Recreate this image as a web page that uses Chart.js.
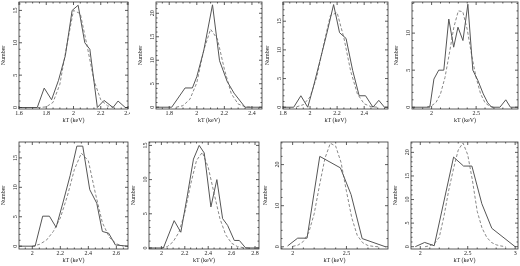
<!DOCTYPE html>
<html><head><meta charset="utf-8">
<script src="https://cdn.jsdelivr.net/npm/chart.js@4"></script>
<style>
html,body{margin:0;padding:0;background:#fff;}
body{width:520px;height:266px;overflow:hidden;position:relative;}
.p{position:absolute;}
</style></head><body>
<script>
// ---------- data: solid histogram (kT, counts) and dashed model (kT, counts) ----------
const p1_kT  = [1.6, 1.734, 1.785, 1.839, 1.89, 1.94, 1.99, 2.034, 2.083, 2.12, 2.175, 2.224, 2.29, 2.327, 2.38, 2.4];
const p1_n   = [0, 0, 3, 1.2, 4.2, 8, 15, 15.8, 10, 9, 0, 1.1, 0, 1, 0, 0];
const p1_mKT = [1.70, 1.75, 1.80, 1.85, 1.90, 1.95, 2.00, 2.05, 2.10, 2.15, 2.20, 2.25, 2.30];
const p1_mN  = [0, 0, 0.1, 0.8, 3.6, 9.5, 15.0, 14.5, 9.5, 4.2, 1.2, 0.25, 0];

const p2_kT  = [1.704, 1.818, 1.915, 1.968, 2.0, 2.05, 2.114, 2.165, 2.22, 2.27, 2.35, 2.473];
const p2_n   = [0, 0, 4.1, 4.1, 6.5, 12, 21.8, 9.9, 5.5, 3, 0, 0];
const p2_mKT = [1.85, 1.90, 1.95, 2.00, 2.05, 2.10, 2.15, 2.20, 2.25, 2.30, 2.35, 2.40];
const p2_mN  = [0, 0.33, 1.7, 5.2, 12.1, 16.6, 14.5, 8.1, 2.9, 0.68, 0.1, 0];

const p3_kT  = [1.8, 1.879, 1.932, 1.983, 2.024, 2.072, 2.12, 2.174, 2.218, 2.266, 2.315, 2.363, 2.41, 2.465, 2.508, 2.55, 2.576];
const p3_n   = [0, 0, 2, 0, 3.5, 8, 12.5, 17.9, 13, 12, 6.4, 2, 2, 0, 1.2, 0, 0];
const p3_mKT = [1.90, 1.95, 2.00, 2.05, 2.10, 2.15, 2.20, 2.25, 2.30, 2.35, 2.40, 2.45, 2.50];
const p3_mN  = [0.07, 0.44, 1.8, 5.3, 10.9, 16.0, 16.5, 12.1, 6.3, 2.3, 0.6, 0.1, 0];

const p4_kT  = [1.78, 1.98, 2.026, 2.08, 2.137, 2.193, 2.248, 2.296, 2.352, 2.407, 2.463, 2.52, 2.58, 2.63, 2.674, 2.767, 2.833, 2.885, 2.97];
const p4_n   = [0, 0, 3.8, 5, 5, 11.9, 8.1, 10.8, 9, 13.9, 5, 3.6, 1.8, 0.6, 0, 0, 1, 0, 0];
const p4_mKT = [1.95, 2.00, 2.05, 2.10, 2.15, 2.20, 2.25, 2.30, 2.35, 2.40, 2.45, 2.50, 2.55, 2.60, 2.65, 2.70];
const p4_mN  = [0.05, 0.2, 0.65, 1.8, 4.0, 7.3, 10.8, 13.0, 12.9, 10.5, 7.0, 4.0, 1.8, 0.6, 0.15, 0];

const p5_kT  = [1.905, 2.02, 2.074, 2.122, 2.17, 2.22, 2.27, 2.318, 2.36, 2.41, 2.46, 2.5, 2.545, 2.593, 2.683];
const p5_n   = [0, 0, 5.1, 5.1, 3.2, 7.5, 12, 17, 17, 9.6, 7.3, 2.5, 2.2, 0.2, 0];
const p5_mKT = [2.00, 2.05, 2.10, 2.15, 2.20, 2.25, 2.30, 2.35, 2.40, 2.45, 2.50, 2.55, 2.60, 2.65];
const p5_mN  = [0, 0.3, 1.0, 2.5, 4.8, 8.5, 13.0, 15.8, 14.5, 9.0, 4.0, 1.5, 0.4, 0];

const p6_kT  = [1.894, 2.017, 2.109, 2.166, 2.22, 2.274, 2.323, 2.366, 2.423, 2.474, 2.523, 2.566, 2.623, 2.666, 2.72, 2.834];
const p6_n   = [0, 0, 4, 2.3, 7.5, 13, 15, 13.9, 6, 10, 4.3, 3.3, 1.1, 1.1, 0, 0];
const p6_mKT = [2.00, 2.05, 2.10, 2.15, 2.20, 2.25, 2.30, 2.35, 2.40, 2.45, 2.50, 2.55, 2.60, 2.65, 2.70, 2.75];
const p6_mN  = [0, 0.2, 0.9, 2.3, 5.2, 9.3, 12.8, 14.0, 11.8, 8.0, 4.3, 1.9, 0.7, 0.2, 0.05, 0];

const p7_kT  = [1.953, 2.047, 2.134, 2.252, 2.444, 2.543, 2.646, 2.863];
const p7_n   = [0.2, 2.1, 2.1, 22, 19.2, 12.7, 2, 0];
const p7_mKT = [2.00, 2.05, 2.10, 2.15, 2.20, 2.25, 2.30, 2.35, 2.40, 2.45, 2.50, 2.55, 2.60, 2.65, 2.70, 2.75, 2.80];
const p7_mN  = [0.1, 0.4, 1.3, 3.5, 8.0, 15.0, 21.5, 25.2, 24.5, 20.5, 13.5, 7.0, 2.8, 1.0, 0.3, 0.1, 0];

const p8_kT  = [1.947, 2.046, 2.147, 2.351, 2.456, 2.544, 2.649, 2.754, 3.0];
const p8_n   = [0, 0.9, 0.2, 19, 17.1, 17.1, 9.1, 3.9, 0];
const p8_mKT = [2.05, 2.10, 2.15, 2.20, 2.25, 2.30, 2.35, 2.40, 2.45, 2.50, 2.55, 2.60, 2.65, 2.70, 2.75, 2.80, 2.85, 2.90];
const p8_mN  = [0, 0.2, 0.7, 2.0, 6.5, 12.0, 16.5, 20.5, 22.0, 19.5, 14.0, 7.5, 4.0, 2.0, 0.9, 0.4, 0.15, 0];

// ---------- tick labels ----------
const p1_xTicks = [1.6, 1.8, 2, 2.2, 2.4];   const p1_yTicks = [0, 5, 10, 15];
const p2_xTicks = [1.8, 2, 2.2, 2.4];        const p2_yTicks = [0, 5, 10, 15, 20];
const p3_xTicks = [1.8, 2, 2.2, 2.4];        const p3_yTicks = [0, 5, 10, 15];
const p4_xTicks = [2, 2.5];                  const p4_yTicks = [0, 5, 10];
const p5_xTicks = [2, 2.2, 2.4, 2.6];        const p5_yTicks = [0, 5, 10, 15];
const p6_xTicks = [2, 2.2, 2.4, 2.6, 2.8];   const p6_yTicks = [0, 5, 10, 15];
const p7_xTicks = [2, 2.5];                  const p7_yTicks = [0, 10, 20];
const p8_xTicks = [2, 2.5, 3];               const p8_yTicks = [0, 5, 10, 15, 20];

const xTitle = 'kT (keV)';
const yTitle = 'Number';

// ---------- layout (plot-box pixels) ----------
const panels = [
  {kT:p1_kT,n:p1_n,mKT:p1_mKT,mN:p1_mN,xt:p1_xTicks,yt:p1_yTicks,box:[19,1.5,128,108.5],xr:[1.6,2.4],yr:[-0.23,16.3],xm:0.05,ym:1},
  {kT:p2_kT,n:p2_n,mKT:p2_mKT,mN:p2_mN,xt:p2_xTicks,yt:p2_yTicks,box:[156,1.5,261.5,108.5],xr:[1.704,2.473],yr:[-0.38,22.4],xm:0.05,ym:1},
  {kT:p3_kT,n:p3_n,mKT:p3_mKT,mN:p3_mN,xt:p3_xTicks,yt:p3_yTicks,box:[283,1.5,388,108.5],xr:[1.8,2.576],yr:[-0.31,18.35],xm:0.05,ym:1},
  {kT:p4_kT,n:p4_n,mKT:p4_mKT,mN:p4_mN,xt:p4_xTicks,yt:p4_yTicks,box:[412,1.5,518,108.5],xr:[1.78,2.97],yr:[-0.24,14.2],xm:0.1,ym:1},
  {kT:p5_kT,n:p5_n,mKT:p5_mKT,mN:p5_mN,xt:p5_xTicks,yt:p5_yTicks,box:[19,142,127.5,248.5],xr:[1.905,2.683],yr:[-0.48,17.7],xm:0.05,ym:1},
  {kT:p6_kT,n:p6_n,mKT:p6_mKT,mN:p6_mN,xt:p6_xTicks,yt:p6_yTicks,box:[148.5,142,258,248.5],xr:[1.894,2.834],yr:[-0.15,15.5],xm:0.05,ym:1},
  {kT:p7_kT,n:p7_n,mKT:p7_mKT,mN:p7_mN,xt:p7_xTicks,yt:p7_yTicks,box:[281,142,387.5,248.5],xr:[1.892,2.886],yr:[-0.54,25.5],xm:0.1,ym:2},
  {kT:p8_kT,n:p8_n,mKT:p8_mKT,mN:p8_mN,xt:p8_xTicks,yt:p8_yTicks,box:[411,142,518,248.5],xr:[1.902,3.03],yr:[-0.49,22.2],xm:0.1,ym:1}
];

const YW = 19, XH = 15, PT = 2, PR = 2;
const FONT = {family:'"Liberation Serif", "DejaVu Serif", serif', size:6};
const TXT = '#222';

const frame = {
  id:'frame',
  afterDatasetsDraw(chart, args, o) {
    const {ctx, chartArea:a, scales:{x, y}} = chart;
    ctx.save();
    ctx.strokeStyle = '#333'; ctx.lineWidth = 0.8;
    ctx.strokeRect(a.left, a.top, a.right - a.left, a.bottom - a.top);
    ctx.beginPath();
    const tx = (v, len) => { const p = x.getPixelForValue(v); ctx.moveTo(p, a.bottom); ctx.lineTo(p, a.bottom - len); ctx.moveTo(p, a.top); ctx.lineTo(p, a.top + len); };
    const ty = (v, len) => { const p = y.getPixelForValue(v); ctx.moveTo(a.left, p); ctx.lineTo(a.left + len, p); ctx.moveTo(a.right, p); ctx.lineTo(a.right - len, p); };
    const isMajor = (v, arr) => arr.some(t => Math.abs(t - v) < 1e-6);
    for (let k = Math.ceil(x.min / o.xm - 1e-6); k * o.xm <= x.max + 1e-9; k++) {
      const v = +(k * o.xm).toFixed(4); tx(v, isMajor(v, o.xt) ? 3 : 1.5);
    }
    for (let k = Math.ceil(y.min / o.ym - 1e-6); k * o.ym <= y.max + 1e-9; k++) {
      const v = k * o.ym; ty(v, isMajor(v, o.yt) ? 3 : 1.5);
    }
    ctx.stroke();
    ctx.restore();
  }
};

panels.forEach((p) => {
  const [L, T, R, B] = p.box;
  const w = Math.round(R - L + YW + PR), h = Math.round(B - T + PT + XH);
  const div = document.createElement('div');
  div.className = 'p';
  div.style.left = (L - YW) + 'px'; div.style.top = (T - PT) + 'px';
  div.style.width = w + 'px'; div.style.height = h + 'px';
  const cv = document.createElement('canvas');
  cv.width = w; cv.height = h; cv.style.width = w + 'px'; cv.style.height = h + 'px';
  div.appendChild(cv); document.body.appendChild(div);

  new Chart(cv, {
    type: 'line',
    data: {
      datasets: [
        {data: p.kT.map((v, i) => ({x: v, y: p.n[i]})), borderColor:'#555', borderWidth:1, pointRadius:0, tension:0},
        {data: p.mKT.map((v, i) => ({x: v, y: p.mN[i]})), borderColor:'#888', borderWidth:1, borderDash:[3,2], pointRadius:0, tension:0}
      ]
    },
    options: {
      responsive:false, animation:false, devicePixelRatio:1,
      layout:{padding:{top:PT, right:PR, left:0, bottom:0}},
      plugins:{legend:{display:false}, tooltip:{enabled:false}, frame:{xm:p.xm, ym:p.ym, xt:p.xt, yt:p.yt}},
      scales:{
        x:{type:'linear', min:p.xr[0], max:p.xr[1],
           grid:{display:false, drawTicks:false, tickLength:0}, border:{display:false},
           afterBuildTicks: s => { s.ticks = p.xt.map(v => ({value:v})); },
           afterFit: s => { s.height = XH; s.paddingLeft = 0; s.paddingRight = 0; },
           ticks:{font:FONT, color:TXT, padding:1, autoSkip:false, maxRotation:0, minRotation:0, callback: v => String(v)},
           title:{display:true, text:xTitle, font:FONT, color:TXT, padding:0}},
        y:{type:'linear', min:p.yr[0], max:p.yr[1],
           grid:{display:false, drawTicks:false, tickLength:0}, border:{display:false},
           afterBuildTicks: s => { s.ticks = p.yt.map(v => ({value:v})); },
           afterFit: s => { s.width = YW; s.paddingTop = 0; s.paddingBottom = 0; },
           ticks:{font:FONT, color:TXT, padding:1, autoSkip:false, minRotation:90, maxRotation:90, crossAlign:'center', callback: v => String(v)},
           title:{display:true, text:yTitle, font:FONT, color:TXT, padding:0}}
      }
    },
    plugins:[frame]
  });
});
</script>
</body></html>
